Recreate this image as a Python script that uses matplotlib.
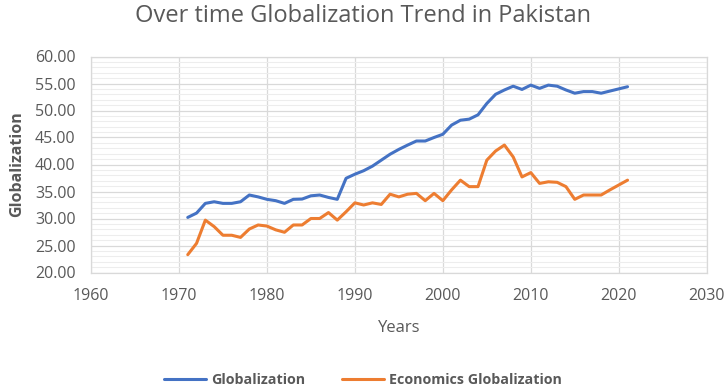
import matplotlib
matplotlib.use("Agg")
import matplotlib.pyplot as plt
from matplotlib.ticker import MultipleLocator, FormatStrFormatter

years = list(range(1971, 2022))
globalization = [30.2, 31.0, 32.8, 33.1, 32.8, 32.8, 33.1, 34.35, 34.0, 33.55,
                 33.3, 32.8, 33.55, 33.6, 34.2, 34.35, 33.9, 33.55, 37.45, 38.2,
                 38.85, 39.7, 40.8, 41.9, 42.8, 43.6, 44.35, 44.35, 45.0, 45.6,
                 47.3, 48.2, 48.4, 49.2, 51.3, 53.0, 53.8, 54.5, 53.9, 54.7,
                 54.1, 54.7, 54.5, 53.8, 53.2, 53.5, 53.5, 53.2, 53.6, 54.0, 54.4]
economics = [23.3, 25.4, 29.7, 28.5, 26.9, 26.9, 26.5, 28.05, 28.8, 28.6,
             27.9, 27.45, 28.8, 28.8, 30.0, 30.0, 31.1, 29.7, 31.25, 32.9,
             32.5, 32.9, 32.6, 34.5, 34.0, 34.5, 34.65, 33.3, 34.65, 33.3,
             35.3, 37.1, 35.9, 35.9, 40.8, 42.5, 43.6, 41.4, 37.7, 38.5,
             36.5, 36.8, 36.7, 35.9, 33.55, 34.35, 34.35, 34.35, 35.3, 36.2, 37.1]

title = "Over time Globalization Trend in Pakistan"
series_names = ["Globalization", "Economics Globalization"]

plt.rcParams['font.family'] = ['Open Sans', 'DejaVu Sans']
gray = "#595959"

fig = plt.figure(figsize=(7.26, 3.88), dpi=100)
ax = fig.add_axes([91/726, 1 - 272.5/388, (706.7-91)/726, (272.5-56.5)/388])

ax.plot(years, globalization, color="#4472C4", lw=2.2, solid_joinstyle="round",
        solid_capstyle="round", label=series_names[0], zorder=3)
ax.plot(years, economics, color="#ED7D31", lw=2.2, solid_joinstyle="round",
        solid_capstyle="round", label=series_names[1], zorder=3)

ax.set_xlim(1960, 2030)
ax.set_ylim(20, 60)
ax.xaxis.set_major_locator(MultipleLocator(10))
ax.yaxis.set_major_locator(MultipleLocator(5))
ax.yaxis.set_minor_locator(MultipleLocator(1))
ax.yaxis.set_major_formatter(FormatStrFormatter("%.2f"))

ax.grid(which="major", axis="both", color="#D9D9D9", lw=0.9, zorder=1)
ax.grid(which="minor", axis="y", color="#EDEDED", lw=0.8, zorder=0)
ax.set_axisbelow(True)
for s in ax.spines.values():
    s.set_color("#D9D9D9")
    s.set_linewidth(0.9)

ax.tick_params(which="both", length=0, colors=gray, labelsize=11.5)
ax.tick_params(axis="x", pad=11)
ax.tick_params(axis="y", pad=11)

ax.set_xlabel("Years", color=gray, fontsize=12, labelpad=12)
ax.set_ylabel("Globalization", color=gray, fontsize=11.5, fontweight="bold", labelpad=7)
fig.suptitle(title, x=0.5, y=0.99, color=gray, fontsize=17)

leg = fig.legend(loc="lower center", bbox_to_anchor=(0.5, -0.03), ncol=2,
                 frameon=False, handlelength=2.9, handletextpad=0.35,
                 columnspacing=2.6, prop={"weight": "bold", "size": 10.3})
for t in leg.get_texts():
    t.set_color(gray)

fig.savefig("out.png", dpi=100)
